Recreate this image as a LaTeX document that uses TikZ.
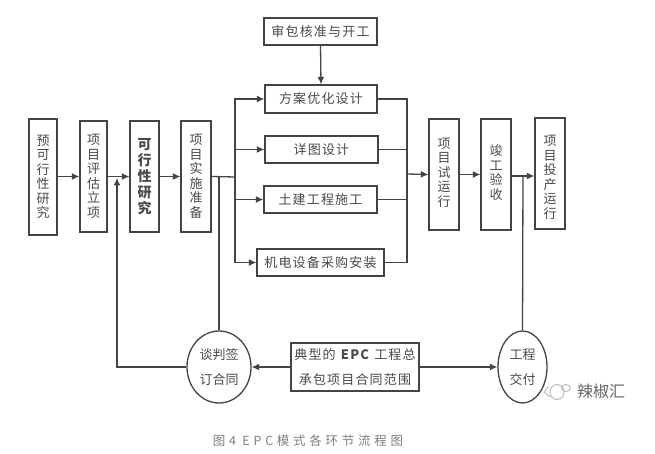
\documentclass[tikz,border=0pt]{standalone}
\usepackage{fontspec}
\usetikzlibrary{arrows.meta,calc,shapes.geometric}
\setmainfont{Noto Sans CJK SC}
\newfontfamily\spaced[LetterSpace=9]{Noto Sans CJK SC}
\newfontfamily\wide[LetterSpace=30]{Noto Sans CJK SC}
\definecolor{ink}{HTML}{444444}
\definecolor{txt}{HTML}{4A4A4A}
\tikzset{
  x=1pt, y=-1pt,
  box/.style={draw=ink, line width=1.3pt, text=txt, inner sep=0pt, align=center,
    font=\fontsize{13}{14.5}\selectfont},
  tall/.style={box},
  wideb/.style={box, font=\fontsize{13}{14.5}\selectfont\spaced},
  round/.style={draw=ink, line width=1.3pt, ellipse, inner sep=0pt, text=txt, align=center,
    font=\fontsize{13}{25}\selectfont},
  link/.style={draw=ink, line width=1.3pt},
  arrow/.style={link, -{Latex[length=7.5pt,width=7pt]}},
}
\newcommand{\tallbox}[7]{% name, left, top, right, bottom, extra options, text
  \node[tall, minimum width=#4pt-#2pt, minimum height=#5pt-#3pt, #6] (#1)
    at ({(#2+#4)/2},{(#3+#5)/2}) {#7};}
% invisible struts that nudge a stacked label up or down inside its box
\newcommand{\nudgedown}[1]{\rule{0pt}{#1}}
\newcommand{\nudgeup}[1]{\rule[-#1]{0pt}{#1}}
\begin{document}
\begin{tikzpicture}
\useasboundingbox (0,0) rectangle (655,454);
\fill[white] (0,0) rectangle (655,454);

% main chain
\tallbox{pre}{29}{119}{57}{235}{}{预\\可\\行\\性\\研\\究}
\tallbox{eval}{80}{121}{107}{232}{}{项\\目\\评\\估\\立\\项}
\tallbox{feas}{130}{121}{159}{232}{font=\fontsize{14}{16}\selectfont\bfseries}{可\\行\\性\\研\\究}
\tallbox{prep}{181}{121}{211}{232}{}{项\\目\\实\\施\\准\\备}
\tallbox{trial}{429}{119}{459}{230}{}{项\\目\\试\\运\\行\nudgeup{5pt}}
\tallbox{accept}{481}{119}{511}{230}{}{竣\\工\\验\\收\nudgeup{5pt}}
\tallbox{oper}{535}{118}{565}{229}{}{\nudgedown{18pt}项\\目\\投\\产\\运\\行}

% parallel work packages
\node[wideb, minimum width=113pt, minimum height=27pt] (approve) at (320.5,31.5) {审包核准与开工};
\node[wideb, minimum width=112pt, minimum height=28pt] (scheme) at (321,99) {方案优化设计};
\node[wideb, minimum width=113pt, minimum height=27pt] (detail) at (321.5,149.5) {详图设计};
\node[wideb, minimum width=113pt, minimum height=27pt] (civil) at (320.5,199.5) {土建工程施工};
\node[wideb, minimum width=127pt, minimum height=27pt] (equip) at (320.5,262.5) {机电设备采购安装};

% contract scope and the two milestones
\node[wideb, minimum width=128pt, minimum height=48pt, font=\fontsize{13}{25}\selectfont\spaced] (scope) at (355,367)
  {典型的 \textbf{EPC} 工程总\\承包项目合同范围};
\node[round, minimum width=64pt, minimum height=72pt] (negot) at (219,367) {谈判签\\订合同};
\node[round, minimum width=49pt, minimum height=72pt] (deliv) at (522.5,367) {工程\\交付};

% caption
\node[text=gray, font=\fontsize{12.5}{15}\selectfont\wide] (cap) at (308,441) {图4 EPC模式各环节流程图};

% junctions
\coordinate (lbus) at (235,177);
\coordinate (rbus) at (407,174);
\coordinate (feed) at (219,177);
\coordinate (loop) at (117,367);
\coordinate (loopend) at (117,178);
\coordinate (hand) at (523,176);

% chain connectors
\draw[arrow] (pre.east |- eval.east) -- (eval.west);
\draw[arrow] (eval.east) -- (feas.west);
\draw[arrow] (feas.east) -- (prep.west);
\draw[link] (prep.east) -- (lbus);
\draw[arrow] (approve.south) -- (scheme.north);
\draw[arrow] (lbus) |- (scheme.west);
\draw[arrow] (lbus) |- (detail.west);
\draw[arrow] (lbus) |- (civil.west);
\draw[arrow] (lbus) |- (equip.west);
\draw[link] (scheme.east) -| (rbus);
\draw[link] (detail.east) -| (rbus);
\draw[link] (civil.east) -| (rbus);
\draw[link] (equip.east) -| (rbus);
\draw[arrow] (rbus) -- (trial.west);
\draw[arrow] (trial.east) -- (accept.west |- trial.east);
\draw[arrow] (accept.east |- hand) -- (oper.west |- hand);

% feedback and contract connectors
\draw[link] (feed) -- (negot.north);
\draw[arrow] (negot.west) -- (loop) -- (loopend);
\draw[arrow] (scope.west) -- (negot.east);
\draw[arrow] (scope.east) -- (deliv.west);
\draw[link] (hand) -- (deliv.north);

% account mark
\begin{scope}[draw=gray!60, line width=0.8pt]
  \draw (557,392) ellipse [x radius=7pt, y radius=7.5pt];
  \draw (566,388) ellipse [x radius=4.5pt, y radius=3.5pt];
  \draw (549,386) -- (544,392) -- (550,397);
\end{scope}
\node[text=gray!80!black, font=\fontsize{16}{18}\selectfont] (mark) at (601,391) {辣椒汇};
\end{tikzpicture}
\end{document}
